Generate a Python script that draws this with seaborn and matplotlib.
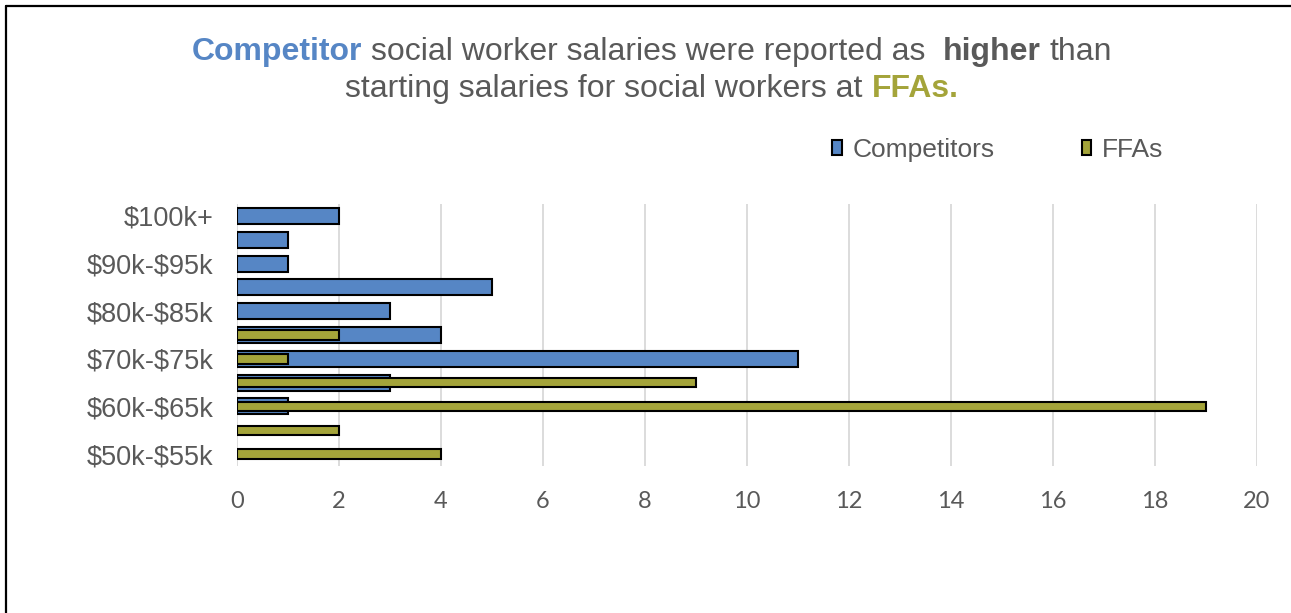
import matplotlib
matplotlib.use("Agg")
import matplotlib.pyplot as plt
import seaborn as sns
import pandas as pd
from matplotlib.patches import Patch
from matplotlib.lines import Line2D

# ---- data ----
categories = ["$100k+", "$95k-$100k", "$90k-$95k", "$85k-$90k", "$80k-$85k",
              "$75k-$80k", "$70k-$75k", "$65k-$70k", "$60k-$65k", "$55k-$60k",
              "$50k-$55k"]
competitors = [2, 1, 1, 5, 3, 4, 11, 3, 1, 0, 0]
ffas = [0, 0, 0, 0, 0, 2, 1, 9, 19, 2, 4]
shown_labels = ["$100k+", "", "$90k-$95k", "", "$80k-$85k", "", "$70k-$75k",
                "", "$60k-$65k", "", "$50k-$55k"]
x_ticks = [0, 2, 4, 6, 8, 10, 12, 14, 16, 18, 20]
series_names = ["Competitors", "FFAs"]

BLUE = "#5686C5"
OLIVE = "#A4A43A"
GRAY = "#595959"
GRID = "#D9D9D9"

sns.set_theme(style="white")
plt.rcParams["font.family"] = ["Liberation Sans", "DejaVu Sans"]

W, H = 1291, 613
fig = plt.figure(figsize=(W / 100, H / 100), dpi=100)
fig.patch.set_facecolor("white")

ax = fig.add_axes([237 / W, 1 - 466 / H, (1257 - 237) / W, (466 - 204) / H])

df = pd.DataFrame({"cat": categories, "Competitors": competitors, "FFAs": ffas})
sns.barplot(data=df, x="Competitors", y="cat", order=categories, color=BLUE,
            saturation=1, width=0.67, edgecolor="black", linewidth=1.5,
            errorbar=None, ax=ax, zorder=3)
sns.barplot(data=df, x="FFAs", y="cat", order=categories, color=OLIVE,
            saturation=1, width=0.4, edgecolor="black", linewidth=1.5,
            errorbar=None, ax=ax, zorder=4)
for p in ax.patches:
    if p.get_width() == 0:
        p.set_visible(False)

ax.set_xlim(0, 20)
ax.set_ylim(10.5, -0.5)
ax.set_xlabel("")
ax.set_ylabel("")
for s in ax.spines.values():
    s.set_visible(False)
ax.set_axisbelow(True)
ax.xaxis.grid(True, color=GRID, linewidth=1.3, zorder=0)
ax.yaxis.grid(False)

ax.set_xticks(x_ticks)
ax.set_xticklabels([str(v) for v in x_ticks], fontsize=17, color=GRAY,
                   family=["Lato", "DejaVu Sans"])
ax.set_yticks(range(len(categories)))
ax.set_yticklabels([s.replace("$", r"\$") for s in shown_labels], fontsize=19.5, color=GRAY)
ax.tick_params(axis="x", length=0, pad=18)
ax.tick_params(axis="y", length=0, pad=17)

# legend
handles = [Patch(facecolor=BLUE, edgecolor="black", linewidth=1.5, label=series_names[0]),
           Patch(facecolor=OLIVE, edgecolor="black", linewidth=1.5, label=series_names[1])]
fig.legend(handles=handles, loc="center left", bbox_to_anchor=(832 / W, 1 - 150 / H),
           ncol=2, frameon=False, fontsize=19, handlelength=0.36, handleheight=0.5,
           handletextpad=0.42, columnspacing=3.3, borderpad=0, borderaxespad=0,
           labelcolor=GRAY)

# rich title
renderer = fig.canvas.get_renderer()
TSIZE = 23


def text_width(s, weight):
    t = fig.text(0, 0, s, fontsize=TSIZE, fontweight=weight)
    w = t.get_window_extent(renderer).width
    t.remove()
    return w


space_w = text_width("a a", "normal") - text_width("aa", "normal")


def rich_line(pieces, xc, y):
    widths = [text_width(s, wt) for s, c, wt, g in pieces]
    total = sum(widths) + sum(p[3] for p in pieces[:-1]) * space_w
    x = xc - total / 2
    for (s, c, wt, g), w in zip(pieces, widths):
        fig.text(x / W, y, s, fontsize=TSIZE, fontweight=wt, color=c,
                 ha="left", va="baseline")
        x += w + g * space_w


rich_line([("Competitor", BLUE, "bold", 1),
           ("social worker salaries were reported as", GRAY, "normal", 2),
           ("higher", GRAY, "bold", 1),
           ("than", GRAY, "normal", 0)], 652, 1 - 60 / H)
rich_line([("starting salaries for social workers at", GRAY, "normal", 1),
           ("FFAs.", OLIVE, "bold", 0)], 652, 1 - 97 / H)

# outer frame (left and top edges)
fig.add_artist(Line2D([6 / W, 6 / W], [0, 1 - 5.5 / H], color="black", linewidth=1.6))
fig.add_artist(Line2D([6 / W, 1], [1 - 5.5 / H, 1 - 5.5 / H], color="black", linewidth=1.6))

fig.savefig("out.png", dpi=100, facecolor="white")
